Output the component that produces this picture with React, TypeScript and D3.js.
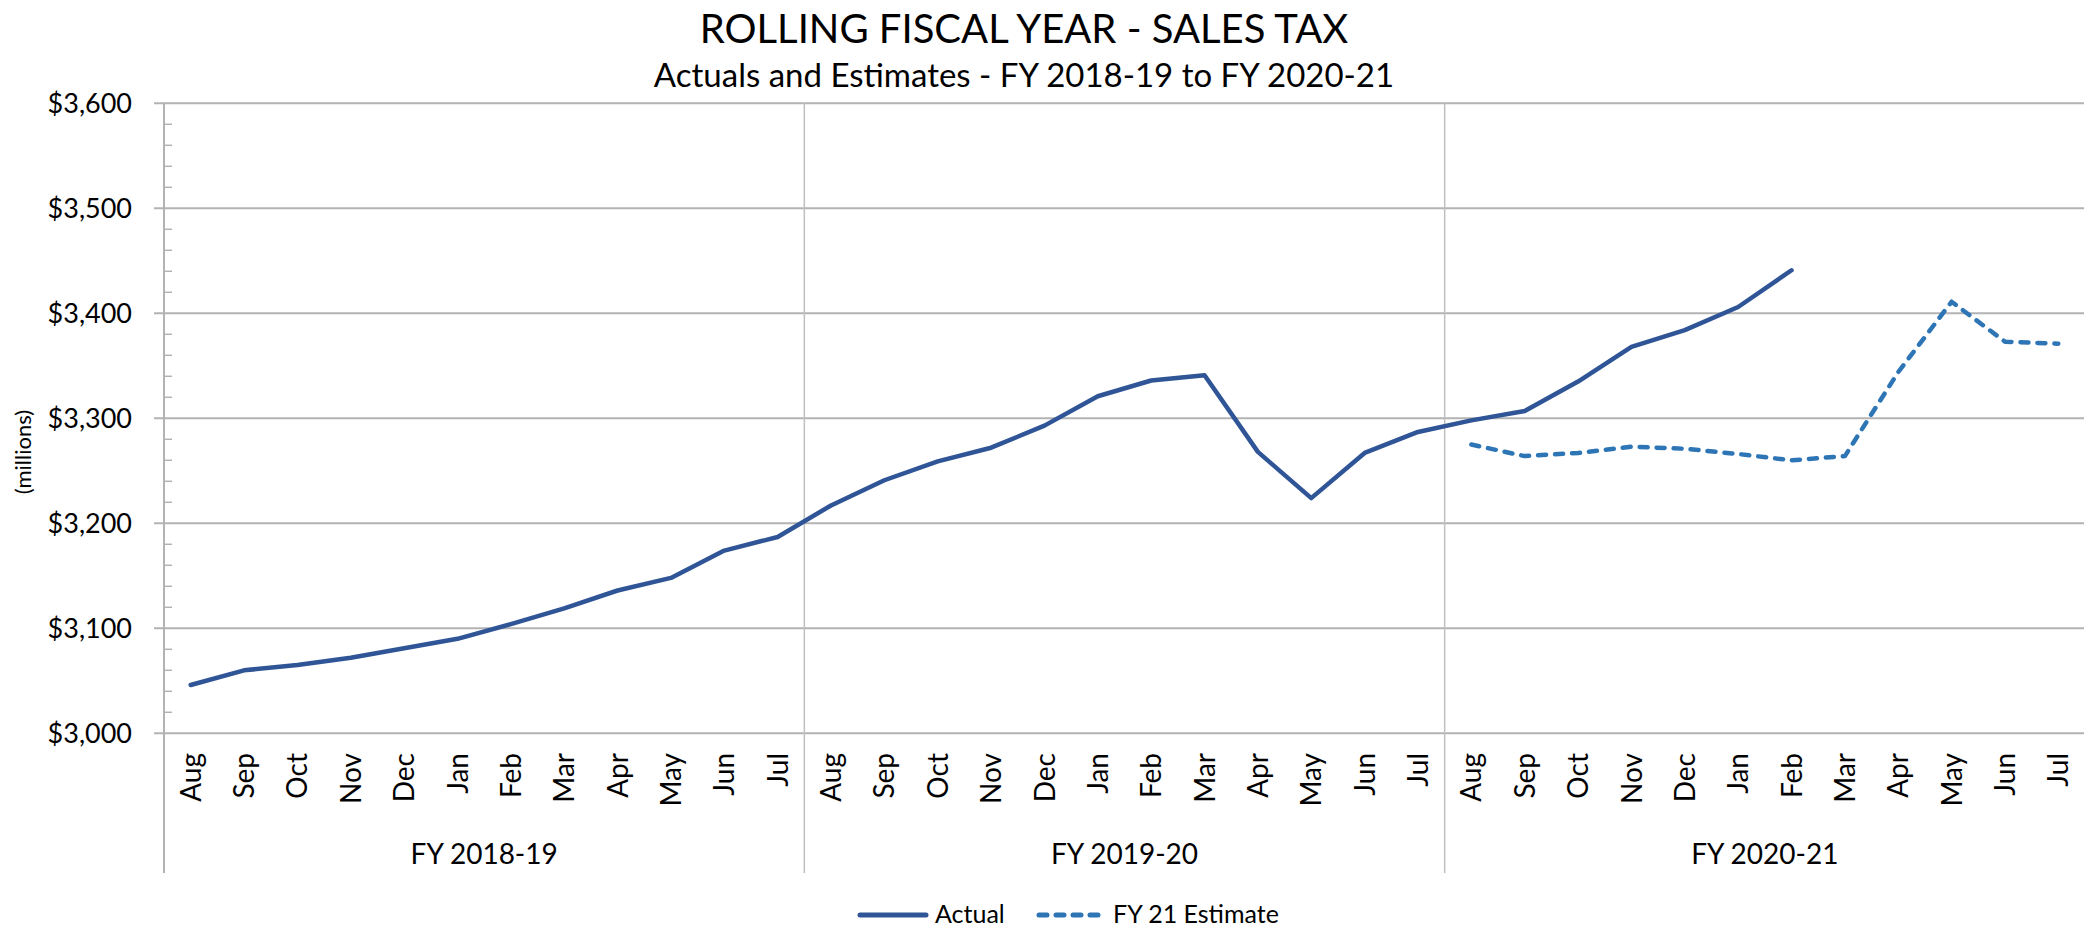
import React from "react";
import * as d3 from "d3";

const months = ["Aug", "Sep", "Oct", "Nov", "Dec", "Jan", "Feb", "Mar", "Apr", "May", "Jun", "Jul"];
const fiscalYears = ["FY 2018-19", "FY 2019-20", "FY 2020-21"];

// rolling 12-month sales tax, $ millions
const actual: (number | null)[] = [
  3046, 3060, 3065, 3072, 3081, 3090, 3104, 3119, 3136, 3148, 3174, 3187,
  3217, 3241, 3259, 3272, 3293, 3321, 3336, 3341, 3268, 3224, 3267, 3287,
  3298, 3307, 3335, 3368, 3384, 3406, 3441, null, null, null, null, null,
];
// FY 21 estimate, Aug..Jul of FY 2020-21
const estimate = [3275, 3264, 3267, 3273, 3271, 3266, 3260, 3264, 3344, 3411, 3373, 3371];

const yTicks = [3000, 3100, 3200, 3300, 3400, 3500, 3600];

const W = 2084;
const H = 930;
const FONT = "Lato, 'Open Sans', sans-serif";
const ACTUAL_COLOR = "#2F5597";
const EST_COLOR = "#2E75B6";
const GRID = "#B3B3B3";

export default function App() {
  const left = 164;
  const right = 2085;
  const top = 103.3;
  const bottom = 733.3;
  const axisBottom = 873;
  const titleX = 1024;

  // one slot per month across the three fiscal years
  const slots = d3.range(fiscalYears.length * months.length);
  const x = d3.scaleBand<number>().domain(slots).range([left, right]).padding(0);
  const cx = (i: number) => (x(i) as number) + x.bandwidth() / 2;
  const y = d3.scaleLinear().domain([3000, 3600]).range([bottom, top]);

  const actualLine = d3
    .line<number | null>()
    .defined((d) => d != null)
    .x((_, i) => cx(i))
    .y((d) => y(d as number));

  const estOffset = 2 * months.length;
  const estLine = d3
    .line<number>()
    .x((_, i) => cx(i + estOffset))
    .y((d) => y(d));

  const minorTicks = d3.range(3000, 3601, 20).filter((v) => v % 100 !== 0);
  const groupW = x.bandwidth() * months.length;

  return (
    <div style={{ position: "fixed", left: 0, top: 0 }}>
      <svg width={W} height={H} style={{ display: "block", background: "#fff" }} fontFamily={FONT}>
        {/* titles */}
        <text x={titleX} y={43} textAnchor="middle" fontSize={40}>
          ROLLING FISCAL YEAR - SALES TAX
        </text>
        <text x={titleX} y={87} textAnchor="middle" fontSize={33}>
          Actuals and Estimates - FY 2018-19 to FY 2020-21
        </text>

        {/* horizontal gridlines + y labels */}
        {yTicks.map((t) => (
          <g key={t}>
            <line x1={left - 10} x2={right} y1={y(t)} y2={y(t)} stroke={GRID} strokeWidth={2} />
            <text x={132} y={y(t)} dy="0.35em" textAnchor="end" fontSize={27}>
              {d3.format("$,")(t)}
            </text>
          </g>
        ))}
        {minorTicks.map((t) => (
          <line key={t} x1={left} x2={left + 8} y1={y(t)} y2={y(t)} stroke={GRID} strokeWidth={1.5} />
        ))}

        {/* y axis line and fiscal year separators */}
        <line x1={left} x2={left} y1={top} y2={axisBottom} stroke={GRID} strokeWidth={2} />
        {[1, 2].map((g) => (
          <line
            key={g}
            x1={left + g * groupW}
            x2={left + g * groupW}
            y1={top}
            y2={axisBottom}
            stroke="#BFBFBF"
            strokeWidth={1.5}
          />
        ))}

        <text
          transform={`translate(23, 452) rotate(-90)`}
          textAnchor="middle"
          dy="0.35em"
          fontSize={22}
        >
          (millions)
        </text>

        {/* month labels */}
        {slots.map((i) => (
          <text
            key={i}
            transform={`translate(${cx(i)}, 753) rotate(-90)`}
            textAnchor="end"
            dy="0.36em"
            fontSize={28}
          >
            {months[i % months.length]}
          </text>
        ))}

        {/* fiscal year labels */}
        {fiscalYears.map((fy, g) => (
          <text key={fy} x={left + (g + 0.5) * groupW} y={864} textAnchor="middle" fontSize={28}>
            {fy}
          </text>
        ))}

        {/* series */}
        <path
          d={actualLine(actual) || ""}
          fill="none"
          stroke={ACTUAL_COLOR}
          strokeWidth={4.5}
          strokeLinejoin="round"
          strokeLinecap="round"
        />
        <path
          d={estLine(estimate) || ""}
          fill="none"
          stroke={EST_COLOR}
          strokeWidth={4.5}
          strokeDasharray="8 9"
          strokeLinejoin="round"
          strokeLinecap="round"
        />

        {/* legend */}
        <line x1={860} x2={926} y1={915} y2={915} stroke={ACTUAL_COLOR} strokeWidth={5} strokeLinecap="round" />
        <text x={935} y={923} fontSize={25}>
          Actual
        </text>
        <line
          x1={1039}
          x2={1103}
          y1={915}
          y2={915}
          stroke={EST_COLOR}
          strokeWidth={5}
          strokeDasharray="8 9"
          strokeLinecap="round"
        />
        <text x={1113} y={923} fontSize={25}>
          FY 21 Estimate
        </text>
      </svg>
    </div>
  );
}
